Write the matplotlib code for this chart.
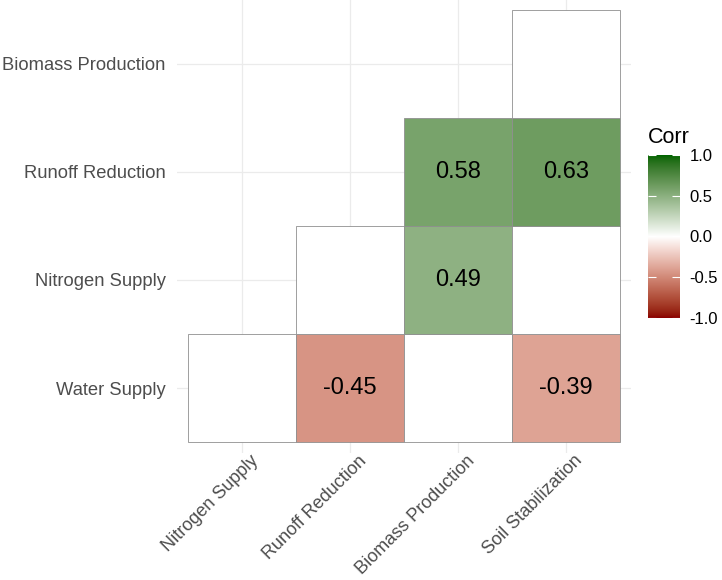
import matplotlib

matplotlib.use("Agg")
import matplotlib.pyplot as plt  # noqa: E402
import matplotlib.transforms as mtransforms  # noqa: E402
import numpy as np  # noqa: E402
from matplotlib.colors import ListedColormap, Normalize  # noqa: E402

plt.rcParams["font.family"] = ["Liberation Sans", "DejaVu Sans"]

x_labels = ["Nitrogen Supply", "Runoff Reduction", "Biomass Production", "Soil Stabilization"]
y_labels = ["Water Supply", "Nitrogen Supply", "Runoff Reduction", "Biomass Production"]

# rows follow y_labels, columns follow x_labels; nan = not significant (blank tile)
corr_water = [np.nan, -0.45, np.nan, -0.39]
corr_nitrogen = [np.nan, np.nan, 0.49, np.nan]
corr_runoff = [np.nan, np.nan, 0.58, 0.63]
corr_biomass = [np.nan, np.nan, np.nan, np.nan]

LOW, MID, HIGH = "#8B0000", "#FFFFFF", "#006400"


def _srgb_to_lab(rgb):
    c = np.asarray(rgb, dtype=float)
    c = np.where(c <= 0.04045, c / 12.92, ((c + 0.055) / 1.055) ** 2.4)
    m = np.array([[0.4124, 0.3576, 0.1805],
                  [0.2126, 0.7152, 0.0722],
                  [0.0193, 0.1192, 0.9505]])
    xyz = m @ c / np.array([0.95047, 1.0, 1.08883])
    f = np.where(xyz > 0.008856, np.cbrt(xyz), 7.787 * xyz + 16 / 116)
    return np.array([116 * f[1] - 16, 500 * (f[0] - f[1]), 200 * (f[1] - f[2])])


def _lab_to_srgb(lab):
    L, a, b = lab
    fy = (L + 16) / 116
    f = np.array([fy + a / 500, fy, fy - b / 200])
    xyz = np.where(f ** 3 > 0.008856, f ** 3, (f - 16 / 116) / 7.787)
    xyz = xyz * np.array([0.95047, 1.0, 1.08883])
    m = np.array([[3.2406, -1.5372, -0.4986],
                  [-0.9689, 1.8758, 0.0415],
                  [0.0557, -0.2040, 1.0570]])
    c = m @ xyz
    c = np.where(c <= 0.0031308, 12.92 * c, 1.055 * np.clip(c, 0, None) ** (1 / 2.4) - 0.055)
    return np.clip(c, 0, 1)


def _div_lab_cmap(low, mid, high, n=256):
    labs = [_srgb_to_lab(matplotlib.colors.to_rgb(c)) for c in (low, mid, high)]
    cols = []
    for t in np.linspace(0, 1, n):
        if t < 0.5:
            lab = labs[0] + (labs[1] - labs[0]) * (t / 0.5)
        else:
            lab = labs[1] + (labs[2] - labs[1]) * ((t - 0.5) / 0.5)
        cols.append(_lab_to_srgb(lab))
    return ListedColormap(cols)


cmap = _div_lab_cmap(LOW, MID, HIGH)
norm = Normalize(-1, 1)

corr = np.array([corr_water, corr_nitrogen, corr_runoff, corr_biomass])
n_rows, n_cols = corr.shape

fig = plt.figure(figsize=(7.22, 5.80), dpi=100)
ax = fig.add_axes([0.245, 0.219, 0.629, 0.783])

# upper triangle tiles (incl. blank white ones for non-significant pairs)
for i in range(n_rows):
    for j in range(i, n_cols):
        v = corr[i, j]
        face = "white" if np.isnan(v) else cmap(norm(v))
        ax.bar(j + 1, 1, bottom=i + 0.5, width=1, color=face,
               edgecolor="#8f8f8f", linewidth=0.6, zorder=2)
        if not np.isnan(v):
            ax.text(j + 1, i + 1, f"{v:.2f}", ha="center", va="center",
                    fontsize=17, color="black", zorder=4)

ax.set_xlim(0.4, n_cols + 0.6)
ax.set_ylim(0.4, n_rows + 0.6)
ax.set_xticks(np.arange(1, n_cols + 1))
ax.set_yticks(np.arange(1, n_rows + 1))
ax.set_xticklabels(x_labels, rotation=45, ha="right", va="top", rotation_mode="anchor")
ax.set_yticklabels(y_labels)
ax.tick_params(length=0, labelsize=13.2, labelcolor="#4D4D4D")
ax.tick_params(axis="x", labelsize=13)
ax.tick_params(axis="y", pad=8)
ax.tick_params(axis="x", pad=6)
# nudge rotated labels the way ggplot's hjust=1 places them
shift = mtransforms.ScaledTranslation(0.08, 0.09, fig.dpi_scale_trans)
for lab in ax.get_xticklabels():
    lab.set_transform(lab.get_transform() + shift)
ax.grid(True, color="#EBEBEB", linewidth=0.9, zorder=0)
ax.set_axisbelow(True)
for s in ax.spines.values():
    s.set_visible(False)

# colourbar legend
cax = fig.add_axes([0.8975, 0.452, 0.044, 0.281])
grad = np.linspace(-1, 1, 256).reshape(-1, 1)
cax.imshow(grad, cmap=cmap, vmin=-1, vmax=1, aspect="auto", origin="lower",
           extent=[0, 1, -1, 1])
cax.set_xlim(0, 1)
cax.set_ylim(-1, 1)
cbar_ticks = [-1.0, -0.5, 0.0, 0.5, 1.0]
cax.set_yticks(cbar_ticks)
cax.set_yticklabels([f"{t:.1f}" for t in cbar_ticks])
cax.yaxis.tick_right()
cax.tick_params(axis="y", direction="in", length=6, color="white", width=0.8,
                left=True, right=True, labelsize=12, labelcolor="black", pad=7)
cax.set_xticks([])
for s in cax.spines.values():
    s.set_visible(False)
fig.text(0.8975, 0.745, "Corr", fontsize=15.5, ha="left", va="bottom")

fig.savefig("out.png", dpi=100)
